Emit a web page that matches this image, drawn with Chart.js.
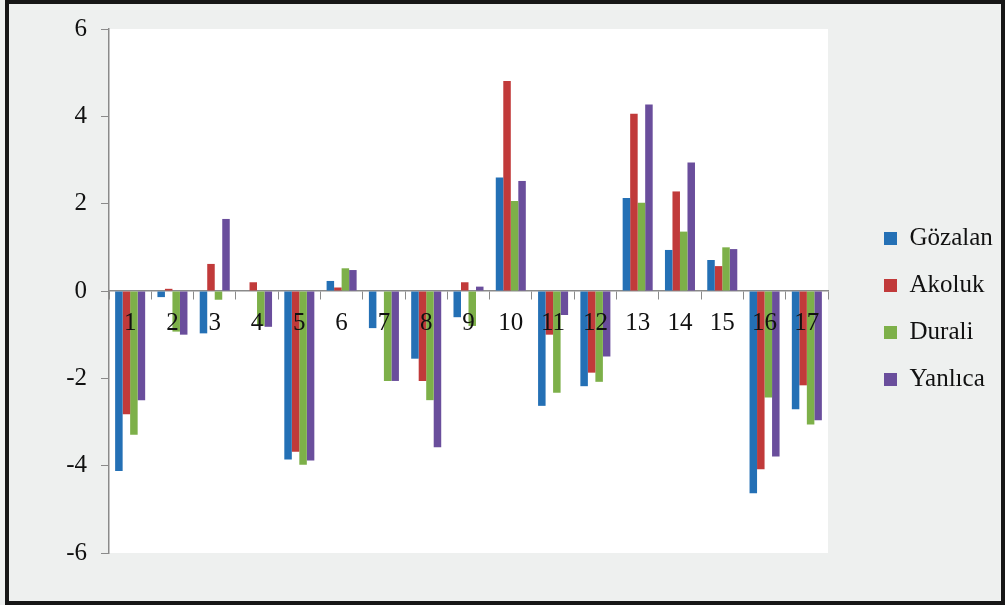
<!DOCTYPE html>
<html>
<head>
<meta charset="utf-8">
<script src="https://cdn.jsdelivr.net/npm/chart.js@4.4.1/dist/chart.umd.min.js"></script>
<style>
  html, body { margin: 0; padding: 0; background: #eef0ef; }
  #wrap { position: relative; width: 1005px; height: 605px; background: #eef0ef; }
  #chart { position: absolute; left: 0; top: 0; }
  #frame {
    position: absolute; left: 5px; top: 0; width: 1000px; height: 605px;
    box-sizing: border-box; border: 4px solid #161616; pointer-events: none;
  }
</style>
</head>
<body>
<div id="wrap">
  <canvas id="chart" width="1005" height="605"></canvas>
  <div id="frame"></div>
</div>
<script>
// Sites along the x axis
const sites = ['1', '2', '3', '4', '5', '6', '7', '8', '9', '10', '11', '12', '13', '14', '15', '16', '17'];

// Values per station
const gozalan = [-4.12, -0.14, -0.97, 0, -3.86, 0.23, -0.85, -1.55, -0.6, 2.6, -2.63, -2.18, 2.13, 0.94, 0.71, -4.63, -2.71];
const akoluk  = [-2.82, 0.05, 0.62, 0.2, -3.68, 0.08, 0, -2.06, 0.2, 4.81, -1.0, -1.87, 4.06, 2.28, 0.57, -4.08, -2.16];
const durali  = [-3.29, -0.93, -0.2, -0.8, -3.98, 0.52, -2.06, -2.5, -0.8, 2.06, -2.33, -2.08, 2.02, 1.36, 1.0, -2.44, -3.06];
const yanlica = [-2.5, -1.0, 1.65, -0.82, -3.88, 0.48, -2.06, -3.58, 0.1, 2.52, -0.55, -1.5, 4.27, 2.94, 0.96, -3.79, -2.96];

const yMin = -6;
const yMax = 6;
const yStep = 2;

const FONT = '"Liberation Serif", "Times New Roman", serif';

// White plot background
const plotBackground = {
  id: 'plotBackground',
  beforeDraw(chart) {
    const { ctx, chartArea: a } = chart;
    ctx.save();
    ctx.fillStyle = '#ffffff';
    ctx.fillRect(a.left, a.top, a.right - a.left, a.bottom - a.top);
    ctx.restore();
  },
};

// Keep the legend a fixed width and nudge it next to the plot
const legendPlacement = {
  id: 'legendPlacement',
  beforeLayout(chart) {
    const legend = chart.legend;
    if (legend && !legend._fixed) {
      const fit = legend.fit.bind(legend);
      legend.fit = function () {
        fit();
        this.width = 177;
      };
      legend._fixed = true;
    }
  },
  afterLayout(chart) {
    const legend = chart.legend;
    legend.left += 34;
    legend.right += 34;
    legend.top += 21;
    legend.bottom += 21;
  },
};

new Chart(document.getElementById('chart'), {
  type: 'bar',
  data: {
    labels: sites,
    datasets: [
      { label: 'Gözalan', data: gozalan, backgroundColor: '#2470b5' },
      { label: 'Akoluk', data: akoluk, backgroundColor: '#c13a3a' },
      { label: 'Durali', data: durali, backgroundColor: '#7db049' },
      { label: 'Yanlıca', data: yanlica, backgroundColor: '#6a4e9c' },
    ],
  },
  options: {
    responsive: false,
    animation: false,
    devicePixelRatio: 1,
    layout: { padding: { top: 23, bottom: 52, left: 0, right: 0 } },
    datasets: {
      bar: { categoryPercentage: 0.71, barPercentage: 1.0 },
    },
    plugins: {
      tooltip: { enabled: false },
      legend: {
        position: 'right',
        labels: {
          boxWidth: 13,
          boxHeight: 13,
          padding: 22,
          color: '#111',
          font: { family: FONT, size: 25 },
        },
      },
    },
    scales: {
      x: {
        type: 'category',
        position: { y: 0 },
        grid: {
          drawOnChartArea: false,
          drawTicks: true,
          tickLength: 8,
          color: '#8a8a8a',
        },
        border: { color: '#8a8a8a', width: 1.5 },
        ticks: {
          z: 1,
          autoSkip: false,
          maxRotation: 0,
          padding: 9,
          color: '#111',
          font: { family: FONT, size: 25 },
        },
      },
      y: {
        min: yMin,
        max: yMax,
        afterFit(scale) { scale.width = 109; },
        grid: {
          drawOnChartArea: false,
          drawTicks: true,
          tickLength: 8,
          color: '#8a8a8a',
        },
        border: { color: '#8a8a8a', width: 1.5 },
        ticks: {
          stepSize: yStep,
          padding: 14,
          color: '#111',
          font: { family: FONT, size: 25 },
        },
      },
    },
  },
  plugins: [plotBackground, legendPlacement],
});
</script>
</body>
</html>
